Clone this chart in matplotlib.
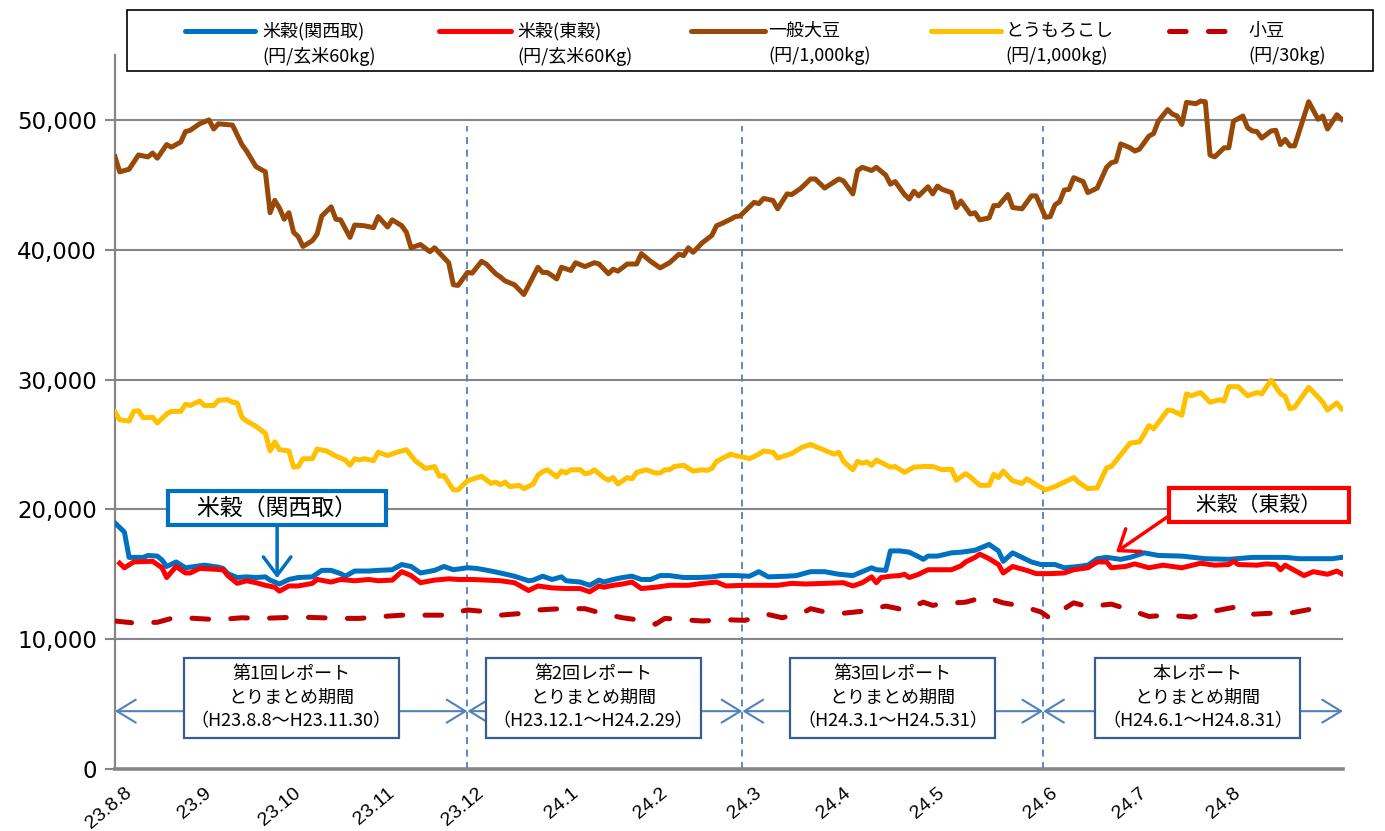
import numpy as np
import matplotlib.pyplot as plt
import matplotlib.transforms as mtransforms
from matplotlib.lines import Line2D
from matplotlib.patches import Rectangle

plt.rcParams['font.family'] = ['Noto Sans CJK JP', 'DejaVu Sans']
plt.rcParams['lines.scale_dashes'] = False

# x軸は取引日の通し番号 (23.8.8 = 0)
tick_days = [0, 17, 36, 56, 75, 95, 114, 134, 153, 173, 197, 216, 236]
tick_labels = ['23.8.8', '23.9', '23.10', '23.11', '23.12', '24.1', '24.2',
               '24.3', '24.4', '24.5', '24.6', '24.7', '24.8']
period_bounds = [0, 75, 133.5, 197.5, 261.3]
period_titles = ['第1回レポート', '第2回レポート', '第3回レポート', '本レポート']
period_ranges = ['（H23.8.8～H23.11.30）', '（H23.12.1～H24.2.29）',
                 '（H24.3.1～H24.5.31）', '（H24.6.1～H24.8.31）']

# 一般大豆 (円/1,000kg)
soy_days = [0, 1, 3, 5, 7, 8, 9, 11, 12, 14, 15, 16, 18, 20, 21, 22, 25, 27, 28, 30,
            32, 33, 34, 35, 36, 37, 38, 39, 40, 42, 43, 44, 46, 47, 48, 50, 51, 53, 55, 56,
            58, 59, 61, 62, 63, 65, 67, 68, 71, 72, 73, 75, 76, 78, 79, 81, 82, 83, 85, 87,
            88, 90, 91, 92, 94, 95, 97, 98, 100, 102, 103, 105, 106, 107, 109, 111, 112, 114, 116, 118,
            120, 121, 122, 123, 125, 127, 128, 129, 131, 132, 133, 135, 136, 137, 138, 140, 141, 143, 144, 146,
            148, 149, 151, 154, 155, 157, 158, 159, 161, 162, 164, 165, 166, 168, 169, 170, 171, 173, 174, 175,
            176, 178, 179, 180, 182, 183, 184, 186, 187, 188, 190, 191, 193, 195, 196, 198, 199, 200, 201, 202,
            203, 204, 206, 207, 209, 211, 212, 213, 214, 216, 217, 218, 220, 221, 222, 224, 225, 226, 227, 228,
            230, 231, 232, 233, 234, 236, 237, 238, 240, 241, 242, 243, 244, 246, 247, 248, 249, 250, 251, 254,
            256, 257, 258, 260, 261]
soy_price = [47150, 46000, 46200, 47300, 47150, 47450, 47050, 48100, 47900, 48300, 49100, 49200, 49700, 50000, 49300, 49700, 49600, 48100, 47600, 46400,
             46000, 42850, 43800, 43200, 42350, 42850, 41350, 41000, 40250, 40700, 41200, 42600, 43300, 42350, 42300, 40950, 41900, 41850, 41700, 42550,
             41750, 42300, 41850, 41350, 40150, 40400, 39850, 40150, 39000, 37300, 37250, 38250, 38200, 39100, 38900, 38150, 37900, 37600, 37300, 36550,
             37250, 38650, 38250, 38250, 37750, 38650, 38400, 39000, 38700, 39000, 38900, 38150, 38500, 38350, 38900, 38900, 39700, 39100, 38600, 39000,
             39650, 39550, 40150, 39800, 40550, 41100, 41850, 42000, 42350, 42550, 42600, 43300, 43650, 43550, 43950, 43800, 43150, 44300, 44250, 44750,
             45450, 45450, 44750, 45450, 45300, 44300, 46100, 46350, 46100, 46350, 45750, 45050, 45250, 44250, 43900, 44500, 44150, 44850, 44300, 44900,
             44650, 44400, 43250, 43750, 42750, 42850, 42300, 42450, 43400, 43400, 44250, 43250, 43150, 44150, 44150, 42500, 42550, 43450, 43700, 44600,
             44650, 45550, 45250, 44400, 44750, 46350, 46700, 46800, 48150, 47850, 47600, 47750, 48750, 48950, 49900, 50800, 50450, 50300, 49650, 51350,
             51250, 51450, 51400, 47300, 47150, 47850, 47850, 49900, 50300, 49400, 49150, 49100, 48600, 49150, 49200, 48100, 48500, 48000, 48000, 51400,
             50050, 50300, 49300, 50400, 50050]

# とうもろこし (円/1,000kg)
corn_days = [0, 1, 3, 4, 5, 6, 8, 9, 11, 12, 14, 15, 16, 18, 19, 21, 22, 24, 25, 26,
             27, 28, 30, 32, 33, 34, 35, 37, 38, 39, 40, 42, 43, 45, 47, 49, 50, 51, 52, 53,
             55, 56, 58, 60, 62, 64, 65, 66, 68, 69, 70, 72, 73, 75, 78, 80, 81, 82, 83, 84,
             86, 87, 89, 90, 91, 92, 94, 95, 96, 97, 99, 100, 101, 102, 104, 105, 106, 107, 109, 110,
             111, 113, 115, 116, 117, 118, 119, 121, 123, 125, 126, 127, 128, 131, 132, 134, 135, 137, 138, 140,
             141, 144, 146, 148, 151, 153, 154, 155, 157, 158, 159, 160, 161, 162, 165, 166, 168, 170, 172, 174,
             176, 178, 179, 181, 182, 184, 186, 187, 188, 189, 191, 193, 194, 196, 198, 200, 202, 204, 205, 207,
             209, 211, 212, 215, 216, 218, 220, 221, 224, 225, 227, 228, 229, 231, 233, 235, 236, 237, 239, 241,
             243, 244, 246, 248, 249, 250, 251, 254, 256, 257, 258, 260, 261]
corn_price = [27500, 26900, 26800, 27550, 27600, 27050, 27100, 26650, 27350, 27550, 27550, 28100, 28000, 28350, 28000, 28000, 28400, 28450, 28250, 28200,
              27100, 26800, 26400, 25850, 24500, 25200, 24600, 24500, 23250, 23300, 23900, 23900, 24650, 24500, 24100, 23800, 23400, 23900, 23800, 23900,
              23750, 24400, 24150, 24400, 24600, 23700, 23450, 23150, 23300, 22550, 22600, 21500, 21500, 22200, 22550, 22000, 22100, 21900, 22100, 21750,
              21850, 21600, 21950, 22650, 22900, 23050, 22500, 22950, 22800, 23050, 23050, 22750, 22800, 23050, 22450, 22250, 22450, 21950, 22450, 22350,
              22850, 23050, 22800, 22800, 23050, 23050, 23300, 23400, 22950, 23050, 23000, 23150, 23700, 24250, 24150, 24000, 23900, 24250, 24500, 24400,
              23950, 24300, 24750, 25000, 24550, 24250, 24400, 23700, 23050, 23700, 23550, 23650, 23400, 23800, 23250, 23300, 22850, 23250, 23300, 23300,
              23050, 23100, 22250, 22750, 22500, 21850, 21850, 22700, 22450, 22950, 22200, 22000, 22350, 21900, 21500, 21750, 22100, 22450, 22100, 21600,
              21650, 23200, 23300, 24650, 25100, 25200, 26450, 26200, 27650, 27600, 27250, 28900, 28750, 29000, 28250, 28450, 28350, 29450, 29450, 28750,
              29000, 28900, 29950, 28900, 28700, 27750, 27850, 29400, 28650, 28250, 27650, 28200, 27750]

# 米穀(関西取) (円/玄米60kg)
kansai_days = [0, 2, 3, 6, 7, 9, 10, 11, 13, 15, 17, 19, 22, 23, 24, 26, 28, 30, 32, 33,
               35, 37, 39, 42, 44, 46, 48, 49, 51, 54, 56, 59, 61, 63, 65, 68, 70, 72, 75, 77,
               80, 82, 85, 88, 89, 91, 93, 95, 96, 99, 101, 103, 104, 106, 108, 110, 112, 114, 116, 118,
               121, 124, 127, 129, 132, 135, 137, 139, 143, 145, 148, 151, 154, 157, 159, 161, 162, 164, 165, 167,
               169, 171, 172, 173, 175, 178, 180, 183, 186, 188, 189, 191, 193, 195, 197, 200, 202, 205, 207, 209,
               211, 214, 216, 219, 222, 227, 232, 237, 242, 249, 252, 259, 261]
kansai_price = [18950, 18250, 16300, 16300, 16450, 16400, 16100, 15600, 15950, 15500, 15600, 15700, 15550, 15450, 15050, 14750, 14800, 14750, 14800, 14550,
                14250, 14600, 14750, 14800, 15300, 15300, 15050, 14850, 15250, 15250, 15300, 15350, 15750, 15600, 15100, 15300, 15600, 15350, 15500, 15450,
                15250, 15100, 14850, 14500, 14550, 14850, 14600, 14800, 14500, 14400, 14150, 14550, 14400, 14600, 14750, 14850, 14600, 14600, 14900, 14900,
                14750, 14750, 14800, 14900, 14900, 14850, 15200, 14800, 14850, 14900, 15200, 15200, 15000, 14900, 15200, 15500, 15350, 15300, 16800, 16800,
                16700, 16350, 16150, 16400, 16400, 16650, 16700, 16850, 17300, 16800, 16000, 16650, 16300, 15950, 15750, 15750, 15500, 15600, 15700, 16200,
                16300, 16150, 16300, 16650, 16450, 16400, 16200, 16150, 16300, 16300, 16200, 16200, 16300]

# 米穀(東穀) (円/玄米60Kg)
tokyo_days = [1, 2, 4, 8, 10, 11, 13, 15, 16, 18, 23, 24, 26, 28, 30, 32, 34, 35, 37, 39,
              42, 43, 46, 48, 51, 54, 56, 59, 61, 63, 65, 68, 71, 73, 76, 79, 82, 85, 88, 90,
              93, 96, 99, 101, 103, 104, 106, 108, 110, 112, 115, 118, 122, 125, 128, 130, 134, 138, 141, 144,
              147, 151, 155, 157, 159, 161, 162, 163, 165, 167, 168, 169, 171, 173, 176, 178, 180, 181, 183, 184,
              186, 188, 189, 191, 194, 196, 199, 202, 204, 207, 209, 211, 212, 215, 217, 220, 223, 227, 231, 234,
              237, 238, 239, 243, 245, 247, 248, 249, 251, 253, 255, 258, 260, 261]
tokyo_price = [15850, 15500, 15950, 16000, 15500, 14750, 15600, 15100, 15100, 15450, 15350, 14900, 14300, 14500, 14350, 14150, 14000, 13700, 14100, 14100,
               14300, 14600, 14400, 14600, 14500, 14600, 14500, 14550, 15200, 14900, 14350, 14550, 14650, 14600, 14600, 14550, 14500, 14350, 13750, 14100,
               13950, 13900, 13900, 13650, 14100, 14000, 14150, 14250, 14400, 13900, 14000, 14150, 14150, 14300, 14400, 14100, 14150, 14150, 14150, 14300,
               14250, 14300, 14350, 14100, 14350, 14800, 14350, 14750, 14850, 14900, 15000, 14750, 15000, 15350, 15350, 15350, 15650, 15950, 16300, 16550,
               16200, 15750, 15100, 15600, 15300, 15050, 15050, 15100, 15350, 15500, 15950, 15950, 15500, 15600, 15800, 15500, 15700, 15500, 15850, 15700,
               15750, 16000, 15750, 15700, 15800, 15750, 15350, 15700, 15300, 14900, 15200, 15000, 15250, 15050]

# 小豆 (円/30kg)
azuki_days = [0, 4, 9, 13, 17, 22, 27, 31, 35, 39, 44, 48, 52, 57, 61, 66, 71, 73, 75, 78,
              82, 87, 90, 95, 100, 104, 108, 113, 115, 117, 121, 125, 130, 134, 139, 142, 147, 148, 151, 155,
              159, 164, 168, 172, 174, 176, 181, 185, 189, 193, 197, 199, 200, 204, 207, 212, 216, 220, 224, 229,
              233, 238, 241, 246, 250, 255, 258]
azuki_price = [11400, 11250, 11300, 11700, 11600, 11500, 11650, 11600, 11650, 11700, 11650, 11600, 11600, 11750, 11850, 11850, 11850, 12100, 12250, 12150,
               11850, 12000, 12250, 12350, 12350, 11950, 11650, 11400, 11150, 11600, 11500, 11400, 11500, 11450, 11900, 11650, 12150, 12350, 12100, 12000,
               12150, 12550, 12250, 12850, 12600, 12750, 12850, 13250, 12800, 12550, 12100, 11600, 11900, 12800, 12500, 12700, 12250, 11750, 11850, 11700,
               12100, 12450, 11900, 12000, 12000, 12350, 12100]

legend_names = ['米穀(関西取)', '米穀(東穀)', '一般大豆', 'とうもろこし', '小豆']
legend_units = ['(円/玄米60kg)', '(円/玄米60Kg)', '(円/1,000kg)', '(円/1,000kg)', '(円/30kg)']
colors = ['#0070C0', '#FF0000', '#984807', '#FFC000', '#C00000']

W, H = 1385, 831


def fx(px):
    return px / W


def fy(py):
    return 1 - py / H


fig = plt.figure(figsize=(W / 100, H / 100), dpi=100)
ax = fig.add_axes([fx(115), fy(769), (1343 - 115) / W, (769 - 55) / H])

lw = 3.6
ax.plot(soy_days, soy_price, color=colors[2], lw=lw, solid_joinstyle='round', zorder=4)
ax.plot(corn_days, corn_price, color=colors[3], lw=lw, solid_joinstyle='round', zorder=4)
ax.plot(kansai_days, kansai_price, color=colors[0], lw=lw, solid_joinstyle='round', zorder=4)
ax.plot(tokyo_days, tokyo_price, color=colors[1], lw=lw, solid_joinstyle='round', zorder=4)
ax.plot(azuki_days, azuki_price, color=colors[4], lw=lw, dashes=(12, 16),
        dash_capstyle='round', zorder=4)

ax.set_xlim(0, 261.3)
ax.set_ylim(0, 55000)
ax.set_yticks(range(0, 55001, 10000))
ax.set_yticklabels(['{:,}'.format(v) for v in range(0, 55001, 10000)])
ax.yaxis.grid(True, color='#868686', lw=1.5)
ax.set_axisbelow(True)
for s in ['top', 'right']:
    ax.spines[s].set_visible(False)
ax.spines['left'].set_color('#868686')
ax.spines['left'].set_linewidth(1.6)
ax.spines['bottom'].set_color('#868686')
ax.spines['bottom'].set_linewidth(2.6)
ax.tick_params(axis='y', length=7, width=1.5, color='#868686', labelsize=16.5, pad=6,
               labelfontfamily='DejaVu Sans')

ax.set_xticks(tick_days)
ax.set_xticklabels(tick_labels, rotation=40, ha='right', va='top', rotation_mode='anchor',
                   fontsize=14, family='Liberation Sans')
ax.tick_params(axis='x', length=0, pad=11)
shift = mtransforms.ScaledTranslation(9 / 100, 0, fig.dpi_scale_trans)
for lab in ax.get_xticklabels():
    lab.set_transform(lab.get_transform() + shift)

# 期間の区切り
for b in period_bounds[1:-1]:
    ax.axvline(b, ymin=0, ymax=0.9, color='#4F81BD', lw=1.3, dashes=(5, 4), zorder=2)

blend = mtransforms.blended_transform_factory(ax.transData, ax.transAxes)
box_shift = [0, -2.5, 0, 1]
for i in range(4):
    x0, x1 = period_bounds[i], period_bounds[i + 1]
    ax.annotate('', xy=(x0, 0.081), xytext=(x1, 0.081), xycoords=blend, textcoords=blend,
                arrowprops=dict(arrowstyle='<->,head_length=0.9,head_width=0.55', color='#4F81BD',
                                lw=1.5, shrinkA=0, shrinkB=0, mutation_scale=15), zorder=5)
    ax.text((x0 + x1) / 2 + box_shift[i], 0.0994,
            period_titles[i] + '\nとりまとめ期間\n' + period_ranges[i],
            transform=blend, ha='center', va='center', fontsize=13, linespacing=1.4,
            bbox=dict(boxstyle='square,pad=0.4', fc='white', ec='#385D8A', lw=1.6), zorder=6)

# 吹き出し
ax.annotate('　米穀（関西取）　', xy=(34.5, 14700), xytext=(34.5, 20100),
            ha='center', va='center', fontsize=16.5, zorder=7,
            bbox=dict(boxstyle='square,pad=0.25', fc='white', ec='#0070C0', lw=3),
            arrowprops=dict(arrowstyle='->,head_length=0.6,head_width=0.45', color='#0070C0',
                            lw=2.5, mutation_scale=22, shrinkA=0, shrinkB=0, relpos=(0.5, 0)))
ax.annotate('　米穀（東穀）　', xy=(213, 16700), xytext=(243.4, 20350),
            ha='center', va='center', fontsize=15, zorder=7,
            bbox=dict(boxstyle='square,pad=0.3', fc='white', ec='#FF0000', lw=3),
            arrowprops=dict(arrowstyle='->,head_length=0.6,head_width=0.45', color='#FF0000',
                            lw=2.5, mutation_scale=22, shrinkA=0, shrinkB=0, relpos=(0, 0.2)))

# 凡例
fig.add_artist(Rectangle((fx(127), fy(71)), (1373 - 127) / W, 61 / H, transform=fig.transFigure,
                         fill=False, ec='black', lw=1.2))
handle_px = [(185, 255), (439, 511), (691, 765), (931, 1001), (1169, 1230)]
text_px = [262, 517, 768, 1005, 1248]
for i in range(5):
    h0, h1 = handle_px[i]
    ln = Line2D([fx(h0), fx(h1)], [fy(31), fy(31)], transform=fig.transFigure, color=colors[i],
                lw=lw, solid_capstyle='round')
    if i == 4:
        ln.set_dashes((12, 16))
        ln.set_dash_capstyle('round')
    fig.add_artist(ln)
    fig.text(fx(text_px[i]), fy(31), legend_names[i], ha='left', va='center', fontsize=13)
    fig.text(fx(text_px[i]), fy(56), legend_units[i], ha='left', va='center', fontsize=13)

fig.savefig('out.png', dpi=100)
